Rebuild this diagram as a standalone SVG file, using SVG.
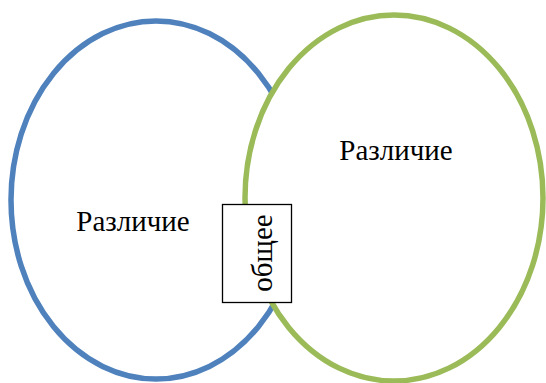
<svg xmlns="http://www.w3.org/2000/svg" width="546" height="383" viewBox="0 0 546 383">
<style>
.lbl{font-family:"Liberation Serif","Times New Roman",serif;font-size:29px;fill:#000;text-anchor:middle}
.ell{fill:#fff;stroke-width:5.5}
</style>
<rect width="546" height="383" fill="#fff"/>
<g id="set-left">
<ellipse class="ell" cx="156" cy="200" rx="145" ry="179" stroke="#4f81bd"/>
<text class="lbl" x="133" y="231">Различие</text>
</g>
<g id="set-right">
<ellipse class="ell" cx="394" cy="198" rx="149" ry="183" stroke="#9bbb59"/>
<text class="lbl" x="396" y="160">Различие</text>
</g>
<g id="common">
<rect x="222.5" y="204.5" width="69" height="98" fill="#fff" stroke="#000" stroke-width="1.3"/>
<text class="lbl" transform="translate(272,253) rotate(-90)">общее</text>
</g>
<g id="connectors"/>
</svg>
